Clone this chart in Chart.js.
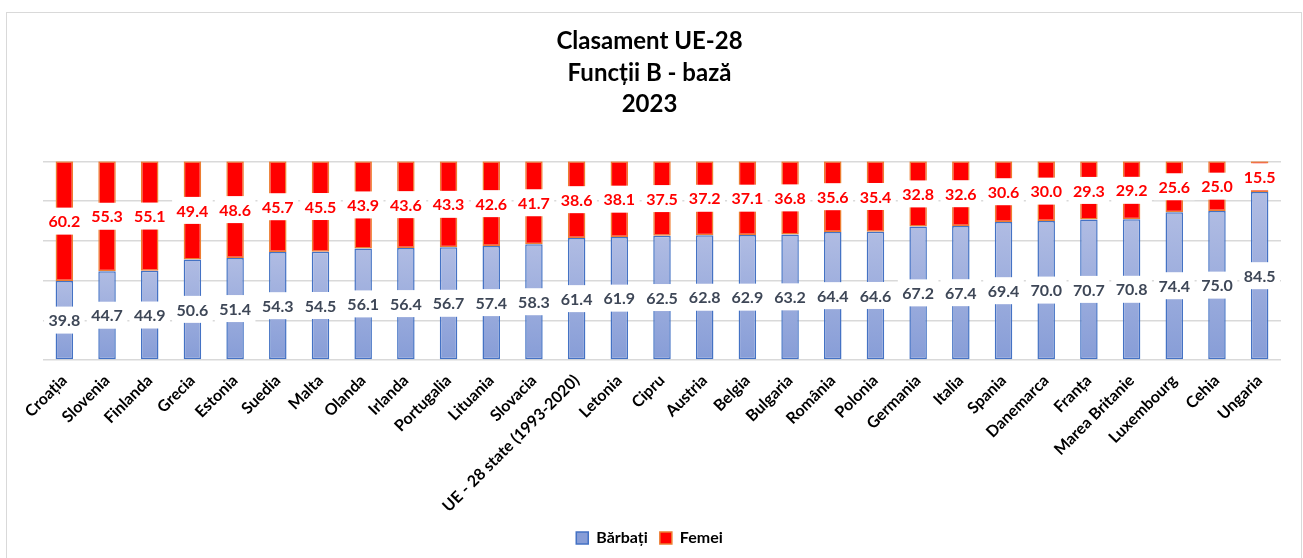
<!DOCTYPE html>
<html>
<head>
<meta charset="utf-8">
<script src="https://cdn.jsdelivr.net/npm/chart.js@4.4.0/dist/chart.umd.min.js"></script>
<style>
  body { margin: 0; background: #fff; }
  #frame { position: absolute; left: 6px; top: 12px; width: 1294px; height: 560px; border: 1px solid #d9d9d9; }
  #wrap { position: absolute; left: 0; top: 0; width: 1303px; height: 558px; }
</style>
</head>
<body>
<div id="frame"></div>
<div id="wrap"><canvas id="chart"></canvas></div>
<script>
var countries = ['Croația', 'Slovenia', 'Finlanda', 'Grecia', 'Estonia', 'Suedia', 'Malta', 'Olanda', 'Irlanda',
    'Portugalia', 'Lituania', 'Slovacia', 'UE - 28 state (1993-2020)', 'Letonia', 'Cipru', 'Austria', 'Belgia',
    'Bulgaria', 'România', 'Polonia', 'Germania', 'Italia', 'Spania', 'Danemarca', 'Franța', 'Marea Britanie',
    'Luxembourg', 'Cehia', 'Ungaria'];
var barbati = [39.8, 44.7, 44.9, 50.6, 51.4, 54.3, 54.5, 56.1, 56.4, 56.7, 57.4, 58.3, 61.4, 61.9, 62.5, 62.8,
    62.9, 63.2, 64.4, 64.6, 67.2, 67.4, 69.4, 70.0, 70.7, 70.8, 74.4, 75.0, 84.5];
var femei = [60.2, 55.3, 55.1, 49.4, 48.6, 45.7, 45.5, 43.9, 43.6, 43.3, 42.6, 41.7, 38.6, 38.1, 37.5, 37.2,
    37.1, 36.8, 35.6, 35.4, 32.8, 32.6, 30.6, 30.0, 29.3, 29.2, 25.6, 25.0, 15.5];
var titleLines = ['Clasament UE-28', 'Funcții B - bază', '2023'];

// gradient for each blue bar, light on top, darker at base
function blueFill(c) {
    var chart = c.chart;
    if (c.type !== 'data' || !chart.chartArea) return '#a7b5e0';
    var y = chart.scales.y;
    var top = y.getPixelForValue(c.raw);
    var bot = y.getPixelForValue(0);
    var g = chart.ctx.createLinearGradient(0, top, 0, bot);
    g.addColorStop(0, '#b0bce3');
    g.addColorStop(1, '#879dd7');
    return g;
}

var labelColors = ['#3e4757', '#ff0000'];
var valueLabels = {
    id: 'valueLabels',
    afterDatasetsDraw: function (chart) {
        var ctx = chart.ctx;
        ctx.save();
        ctx.font = 'bold 16px Lato';
        ctx.textAlign = 'center';
        ctx.textBaseline = 'middle';
        chart.data.datasets.forEach(function (ds, di) {
            var meta = chart.getDatasetMeta(di);
            meta.data.forEach(function (bar, i) {
                var txt = ds.data[i].toFixed(1);
                var cy = (bar.y + bar.base) / 2;
                var w = ctx.measureText(txt).width + 9;
                ctx.fillStyle = '#fff';
                ctx.fillRect(bar.x - w / 2, cy - 13.5, w, 27);
                ctx.fillStyle = labelColors[di];
                ctx.fillText(txt, bar.x, cy + 1);
            });
        });
        ctx.restore();
    }
};

var myChart = new Chart(document.getElementById('chart'), {
    type: 'bar',
    data: {
        labels: countries,
        datasets: [
            {
                label: 'Bărbați',
                data: barbati,
                backgroundColor: blueFill,
                borderColor: '#4472c4',
                borderWidth: 1.5,
                borderSkipped: false,
                barPercentage: 0.41,
                categoryPercentage: 1
            },
            {
                label: 'Femei',
                data: femei,
                backgroundColor: '#ff0000',
                borderColor: '#ed7d31',
                borderWidth: 1.5,
                borderSkipped: false,
                barPercentage: 0.41,
                categoryPercentage: 1
            }
        ]
    },
    options: {
        responsive: true,
        maintainAspectRatio: false,
        animation: false,
        layout: { padding: { left: 18, right: 22, top: 26, bottom: 2 } },
        plugins: {
            title: {
                display: true,
                text: titleLines,
                color: '#000',
                font: { family: 'Lato', size: 24, weight: 'bold', lineHeight: 1.31 },
                padding: { top: 0, bottom: 41 }
            },
            legend: {
                position: 'bottom',
                labels: {
                    color: '#000',
                    font: { family: 'Lato', size: 16, weight: 'bold' },
                    boxWidth: 12,
                    boxHeight: 12,
                    padding: 12
                }
            },
            tooltip: { enabled: false }
        },
        scales: {
            x: {
                stacked: true,
                grid: { display: false },
                border: { display: false },
                ticks: {
                    color: '#000',
                    font: { family: 'Lato', size: 16, weight: 'bold' },
                    minRotation: 45,
                    maxRotation: 45,
                    autoSkip: false
                },
                afterFit: function (s) { s.height = 158; }
            },
            y: {
                stacked: true,
                min: 0,
                max: 100,
                ticks: { display: false, stepSize: 20 },
                grid: { color: '#d9d9d9', lineWidth: 1.5, drawTicks: false },
                border: { display: false },
                afterFit: function (s) { s.width = 25; }
            }
        }
    },
    plugins: [valueLabels]
});
</script>
</body>
</html>
